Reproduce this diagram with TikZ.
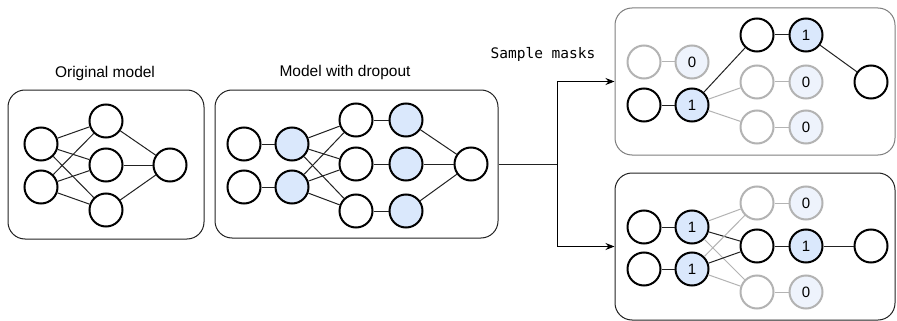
\documentclass[tikz,border=0pt]{standalone}
\usepackage{fontspec}
\setmainfont{Liberation Sans}
\setmonofont{DejaVu Sans Mono}
\usetikzlibrary{arrows.meta}
\definecolor{bluefill}{HTML}{DAE8FC}
\definecolor{palefill}{HTML}{EEF3FC}
\definecolor{graystroke}{HTML}{B3B3B3}
\definecolor{boxgray}{HTML}{7F7F7F}
\definecolor{darkline}{HTML}{222222}
\tikzset{
  neuron/.style={circle, draw=black, line width=2pt, minimum size=33pt, inner sep=0pt, fill=white, font=\fontsize{15}{15}\selectfont},
  bneuron/.style={neuron, fill=bluefill},
  gneuron/.style={neuron, draw=graystroke},
  gzneuron/.style={neuron, draw=graystroke, fill=palefill},
  conn/.style={draw=darkline, line width=1pt},
  gconn/.style={draw=graystroke, line width=1pt},
  panel/.style={draw=darkline, line width=1pt, rounded corners=17pt, fill=white, inner sep=0pt},
  title/.style={font=\fontsize{15.5}{16}\selectfont},
  arr/.style={draw=black, line width=1pt, -{Stealth[length=9pt,width=7pt]}},
}
\begin{document}
\begin{tikzpicture}[x=1pt,y=-1pt]
\useasboundingbox (0,0) rectangle (897,321);

% panels
\node[panel, minimum width=196pt, minimum height=149pt] (b1) at (106,164.5) {};
\node[panel, minimum width=283pt, minimum height=148pt] (b2) at (356.5,164) {};
\node[panel, draw=boxgray, minimum width=280pt, minimum height=147pt] (b3) at (755,81.5) {};
\node[panel, minimum width=280pt, minimum height=147pt] (b4) at (755,246.5) {};

% titles
\node[title] (t1) at (105,73) {Original model};
\node[title] (t2) at (345,72) {Model with dropout};
\node[font=\ttfamily\fontsize{14.5}{15}\selectfont] (t3) at (543,54) {Sample masks};

% original model
\node[neuron] (oi1) at (41,144) {};
\node[neuron] (oi2) at (41,187) {};
\node[neuron] (oh1) at (106,121) {};
\node[neuron] (oh2) at (106,165) {};
\node[neuron] (oh3) at (106,210) {};
\node[neuron] (oo) at (170,165) {};
\foreach \a in {oi1,oi2} \foreach \b in {oh1,oh2,oh3} \draw[conn] (\a) -- (\b);
\foreach \b in {oh1,oh2,oh3} \draw[conn] (\b) -- (oo);

% model with dropout
\node[neuron] (da1) at (244,144) {};
\node[neuron] (da2) at (244,187) {};
\node[bneuron] (dm1) at (292,144) {};
\node[bneuron] (dm2) at (292,187) {};
\node[neuron] (dh1) at (356,120) {};
\node[neuron] (dh2) at (356,164) {};
\node[neuron] (dh3) at (356,211) {};
\node[bneuron] (dn1) at (406,120) {};
\node[bneuron] (dn2) at (406,164) {};
\node[bneuron] (dn3) at (406,211) {};
\node[neuron] (do) at (471,164) {};
\draw[conn] (da1) -- (dm1);
\draw[conn] (da2) -- (dm2);
\foreach \a in {dm1,dm2} \foreach \b in {dh1,dh2,dh3} \draw[conn] (\a) -- (\b);
\draw[conn] (dh1) -- (dn1);
\draw[conn] (dh2) -- (dn2);
\draw[conn] (dh3) -- (dn3);
\foreach \b in {dn1,dn2,dn3} \draw[conn] (\b) -- (do);

% arrows
\coordinate (split) at (557,164);
\draw[conn] (b2.east) -- (split);
\draw[arr] (split) |- (b3.west);
\draw[arr] (split) |- (b4.west);

% sample 1
\node[gneuron] (sgi) at (644,62) {};
\node[gzneuron] (sg0) at (692,62) {0};
\node[neuron] (sbi) at (644,105) {};
\node[bneuron] (sb1) at (692,105) {1};
\node[neuron] (sth) at (757,35) {};
\node[bneuron] (st1) at (806,35) {1};
\node[gneuron] (smh) at (757,82) {};
\node[gzneuron] (sm0) at (806,82) {0};
\node[gneuron] (slh) at (757,127) {};
\node[gzneuron] (sl0) at (806,127) {0};
\node[neuron] (sout) at (871,82) {};
\draw[gconn] (sgi) -- (sg0);
\draw[conn] (sbi) -- (sb1);
\draw[conn] (sb1) -- (sth);
\draw[gconn] (sb1) -- (smh);
\draw[gconn] (sb1) -- (slh);
\draw[conn] (sth) -- (st1);
\draw[gconn] (smh) -- (sm0);
\draw[gconn] (slh) -- (sl0);
\draw[conn] (st1) -- (sout);

% sample 2
\node[neuron] (ui1) at (644,227) {};
\node[neuron] (ui2) at (644,269) {};
\node[bneuron] (up1) at (692,227) {1};
\node[bneuron] (up2) at (692,269) {1};
\node[gneuron] (uth) at (757,203) {};
\node[gzneuron] (ut0) at (806,203) {0};
\node[neuron] (umh) at (757,246) {};
\node[bneuron] (um1) at (806,246) {1};
\node[gneuron] (ulh) at (757,292) {};
\node[gzneuron] (ul0) at (806,292) {0};
\node[neuron] (uout) at (871,246) {};
\draw[conn] (ui1) -- (up1);
\draw[conn] (ui2) -- (up2);
\foreach \a in {up1,up2} {
  \draw[gconn] (\a) -- (uth);
  \draw[gconn] (\a) -- (ulh);
  \draw[conn] (\a) -- (umh);
}
\draw[gconn] (uth) -- (ut0);
\draw[gconn] (ulh) -- (ul0);
\draw[conn] (umh) -- (um1);
\draw[conn] (um1) -- (uout);
\end{tikzpicture}
\end{document}
